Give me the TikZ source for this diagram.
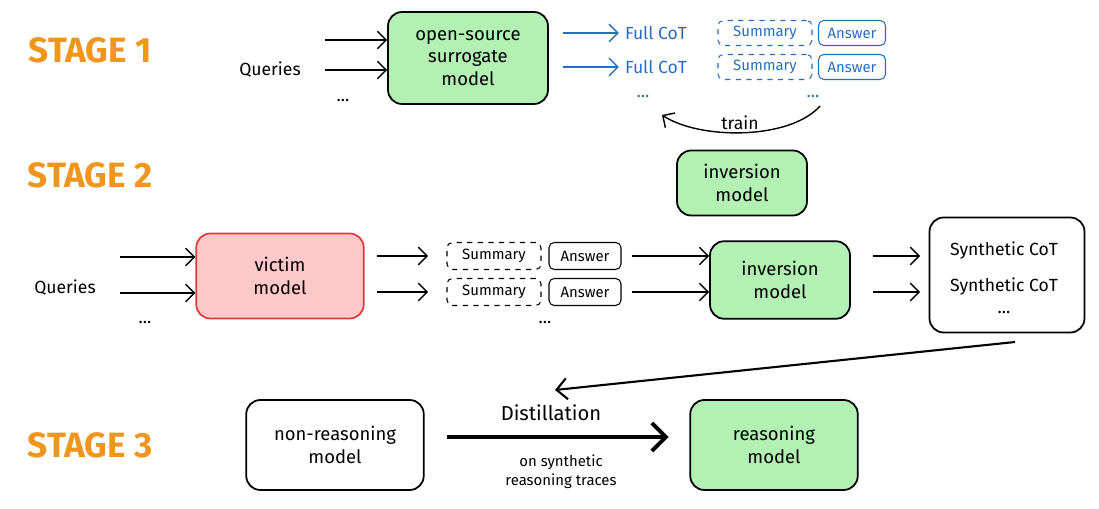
\documentclass[tikz,border=0pt]{standalone}
\usepackage{fontspec}
\setmainfont{Fira Sans}
\usepackage{xcolor}
\definecolor{stage-orange}{RGB}{240,150,30}
\definecolor{box-green}{RGB}{178,240,180}
\definecolor{box-red}{RGB}{255,201,201}
\definecolor{edge-red}{RGB}{220,60,60}
\definecolor{trace-blue}{RGB}{40,110,190}
\usetikzlibrary{positioning,arrows.meta}

\begin{document}
\begin{tikzpicture}[x=0.02cm, y=-0.02cm,
    stage/.style={font=\fontsize{20}{22}\selectfont\bfseries, text=stage-orange},
    model box/.style={draw=black, line width=1pt, rounded corners=8pt, align=center, font=\fontsize{10.5}{13}\selectfont},
    tag box/.style={draw=#1, text=#1, line width=0.6pt, rounded corners=3pt, inner sep=1pt, minimum height=0.5cm, font=\fontsize{8.5}{9}\selectfont},
    dash tag/.style={tag box=#1, dashed, minimum width=1.88cm},
    plain/.style={font=\fontsize{10}{12}\selectfont},
    flow/.style={-{Straight Barb[length=5pt]}, line width=0.8pt},
]
\useasboundingbox (0,0) rectangle (1099,509);

% stage labels
\node[stage] (s1) at (90,50) {STAGE 1};
\node[stage] (s2) at (90,175) {STAGE 2};
\node[stage] (s3) at (90,445) {STAGE 3};

% ---- stage 1
\node[model box, fill=box-green, minimum width=3.2cm, minimum height=1.84cm] (surr) at (468,58) {open-source\\surrogate\\model};
\node[plain] (q1) at (270,70) {Queries};
\node[plain] at (343,100) {...};
\coordinate (q1a) at (325,40); \coordinate (q1b) at (325,70);
\draw[flow] (q1a) -- (q1a -| surr.west);
\draw[flow] (q1b) -- (q1b -| surr.west);

\foreach \y/\n in {33/a,67/b} {
  \node[plain, text=trace-blue] (full\n) at (656,\y) {Full CoT};
  \node[dash tag=trace-blue] (sum\n) at (765,\y) {Summary};
  \node[tag box=trace-blue, minimum width=1.34cm] (ans\n) at (852,\y) {Answer};
  \draw[flow, draw=trace-blue] (563,\y) -- (full\n.west);
}
\node[plain, text=trace-blue] (dotsa) at (643,96) {...};
\node[plain, text=trace-blue] (dotsb) at (813,96) {...};

\node[model box, fill=box-green, minimum width=2.6cm, minimum height=1.3cm] (inv1) at (742,183) {inversion\\model};
\coordinate (trs) at (820,106);
\coordinate (tre) at (662,115);
\draw[flow] (trs) .. controls (790,140) and (700,140) .. (tre);
\node[plain] (train) at (740,123) {train};

% ---- stage 2
\node[plain] (q2) at (65,288) {Queries};
\node[plain] at (145,322) {...};
\node[model box, fill=box-red, draw=edge-red, minimum width=3.35cm, minimum height=1.7cm] (victim) at (280,276) {victim\\model};
\coordinate (q2a) at (120,257); \coordinate (q2b) at (120,293);
\draw[flow] (q2a) -- (q2a -| victim.west);
\draw[flow] (q2b) -- (q2b -| victim.west);

\node[model box, fill=box-green, minimum width=2.8cm, minimum height=1.55cm] (inv2) at (780,280) {inversion\\model};
\node[model box, fill=white, minimum width=3.1cm, minimum height=2.3cm] (synth) at (1007,275) {};
\node[plain] (syna) at (1004,251) {Synthetic CoT};
\node[plain] (synb) at (1004,287) {Synthetic CoT};
\node[plain] at (1004,312) {...};

\foreach \y/\n in {256/a,292/b} {
  \node[dash tag=black, minimum height=0.54cm] (vsum\n) at (494,\y) {Summary};
  \node[tag box=black, minimum height=0.54cm, minimum width=1.44cm] (vans\n) at (585,\y) {Answer};
  \draw[flow] (victim.east |- 0,\y) ++(12,0) -- (428,\y);
  \draw[flow] (632,\y) -- (inv2.west |- 0,\y);
  \draw[flow] (inv2.east |- 0,\y) ++(22,0) -- (920,\y);
}
\node[plain] at (545,322) {...};

\coordinate (back) at (555,390);
\draw[-{Straight Barb[length=6pt]}, line width=1.2pt] (1015,342) -- (back);

% ---- stage 3
\node[model box, fill=white, minimum width=3.55cm, minimum height=1.8cm] (nonr) at (335,445) {non-reasoning\\model};
\node[model box, fill=box-green, minimum width=3.35cm, minimum height=1.8cm] (reas) at (774,445) {reasoning\\model};
\draw[-{Straight Barb[length=8pt]}, line width=2.2pt] (nonr.east) ++(22,-8) -- ++(222,0);
\node[font=\fontsize{11.5}{13}\selectfont] (dist) at (551,413) {Distillation};
\node[align=center, font=\fontsize{8.5}{11}\selectfont] (dsub) at (561,472) {on synthetic\\reasoning traces};
\end{tikzpicture}
\end{document}
